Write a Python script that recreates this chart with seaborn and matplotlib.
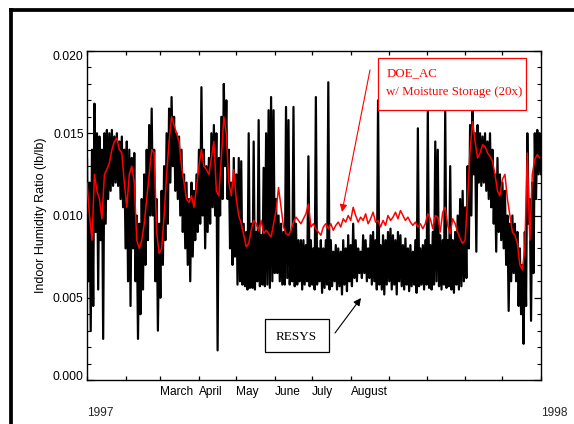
import matplotlib
matplotlib.use("Agg")
import numpy as np
import pandas as pd
import seaborn as sns
import matplotlib.pyplot as plt
from matplotlib.patches import Rectangle
from matplotlib.lines import Line2D

# ---------------- data ----------------
# sampling grid: every 2 days of 1997; RESYS given as a max (day 2i) / min (day 2i+1) pair
month_starts = [0, 31, 59, 90, 120, 151, 181, 212, 243, 273, 304, 334, 365]
month_labels = ["", "", "March", "April", "May", "June", "July", "August", "", "", "", "", ""]
year_labels = ["1997", "1998"]

# RESYS (black) – upper values, Jan-Mar / Apr-Jun / Jul-Sep / Oct-Dec
resys_hi_q1 = [0.0135, 0.0120, 0.0140, 0.0168, 0.0150, 0.0148, 0.0140, 0.0150, 0.0152, 0.0150,
               0.0152, 0.0148, 0.0150, 0.0145, 0.0148, 0.0140, 0.0145, 0.0140, 0.0135, 0.0138,
               0.0100, 0.0095, 0.0110, 0.0125, 0.0140, 0.0155, 0.0165, 0.0140, 0.0110, 0.0095,
               0.0115, 0.0130, 0.0150, 0.0165, 0.0172, 0.0160, 0.0150, 0.0148, 0.0140, 0.0125,
               0.0120, 0.0110, 0.0120, 0.0115, 0.0125, 0.0140]
resys_hi_q2 = [0.0178, 0.0140, 0.0130, 0.0135, 0.0150, 0.0155, 0.0150, 0.0135, 0.0160, 0.0180,
               0.0170, 0.0140, 0.0120, 0.0135, 0.0125, 0.0135, 0.0133, 0.0095, 0.0090, 0.0150,
               0.0095, 0.0145, 0.0090, 0.0158, 0.0088, 0.0129, 0.0150, 0.0164, 0.0172, 0.0164,
               0.0110, 0.0100, 0.0095, 0.0090, 0.0166, 0.0158, 0.0090, 0.0166, 0.0095, 0.0085,
               0.0085, 0.0085, 0.0082, 0.0136, 0.0085]
resys_hi_q3 = [0.0080, 0.0172, 0.0080, 0.0085, 0.0080, 0.0085, 0.0181, 0.0085, 0.0078, 0.0082,
               0.0080, 0.0078, 0.0085, 0.0080, 0.0088, 0.0082, 0.0095, 0.0085, 0.0080, 0.0078,
               0.0088, 0.0085, 0.0080, 0.0088, 0.0090, 0.0085, 0.0170, 0.0082, 0.0088, 0.0085,
               0.0090, 0.0092, 0.0088, 0.0085, 0.0090, 0.0088, 0.0082, 0.0086, 0.0080, 0.0082,
               0.0078, 0.0085, 0.0153, 0.0080, 0.0082]
resys_hi_q4 = [0.0085, 0.0164, 0.0082, 0.0090, 0.0145, 0.0140, 0.0088, 0.0085, 0.0164, 0.0085,
               0.0130, 0.0085, 0.0090, 0.0100, 0.0110, 0.0115, 0.0105, 0.0130, 0.0155, 0.0166,
               0.0150, 0.0155, 0.0150, 0.0148, 0.0150, 0.0145, 0.0150, 0.0140, 0.0125, 0.0135,
               0.0125, 0.0120, 0.0115, 0.0100, 0.0095, 0.0100, 0.0095, 0.0090, 0.0080, 0.0070,
               0.0090, 0.0150, 0.0110, 0.0120, 0.0150, 0.0152, 0.0150]

# RESYS (black) – lower values
resys_lo_q1 = [0.0060, 0.0030, 0.0045, 0.0090, 0.0055, 0.0085, 0.0025, 0.0095, 0.0110, 0.0115,
               0.0118, 0.0120, 0.0118, 0.0110, 0.0105, 0.0080, 0.0060, 0.0045, 0.0080, 0.0060,
               0.0025, 0.0040, 0.0055, 0.0070, 0.0085, 0.0100, 0.0100, 0.0060, 0.0030, 0.0050,
               0.0070, 0.0085, 0.0095, 0.0120, 0.0130, 0.0115, 0.0110, 0.0100, 0.0090, 0.0080,
               0.0070, 0.0060, 0.0075, 0.0085, 0.0090, 0.0095]
resys_lo_q2 = [0.0100, 0.0080, 0.0090, 0.0095, 0.0105, 0.0100, 0.0018, 0.0100, 0.0110, 0.0130,
               0.0110, 0.0080, 0.0070, 0.0075, 0.0058, 0.0060, 0.0058, 0.0057, 0.0055, 0.0056,
               0.0056, 0.0055, 0.0060, 0.0057, 0.0058, 0.0057, 0.0058, 0.0056, 0.0060, 0.0065,
               0.0065, 0.0060, 0.0058, 0.0058, 0.0062, 0.0058, 0.0060, 0.0057, 0.0058, 0.0060,
               0.0055, 0.0058, 0.0060, 0.0057, 0.0058]
resys_lo_q3 = [0.0055, 0.0058, 0.0060, 0.0053, 0.0056, 0.0058, 0.0055, 0.0057, 0.0060, 0.0055,
               0.0057, 0.0052, 0.0058, 0.0054, 0.0060, 0.0057, 0.0062, 0.0060, 0.0065, 0.0062,
               0.0065, 0.0060, 0.0062, 0.0058, 0.0060, 0.0055, 0.0058, 0.0055, 0.0052, 0.0058,
               0.0060, 0.0055, 0.0058, 0.0052, 0.0060, 0.0057, 0.0055, 0.0058, 0.0054, 0.0057,
               0.0058, 0.0053, 0.0057, 0.0058, 0.0055]
resys_lo_q4 = [0.0058, 0.0056, 0.0055, 0.0058, 0.0060, 0.0057, 0.0055, 0.0058, 0.0056, 0.0057,
               0.0055, 0.0053, 0.0058, 0.0055, 0.0057, 0.0060, 0.0062, 0.0080, 0.0100, 0.0125,
               0.0078, 0.0120, 0.0118, 0.0120, 0.0115, 0.0110, 0.0105, 0.0095, 0.0078, 0.0090,
               0.0085, 0.0080, 0.0070, 0.0042, 0.0060, 0.0065, 0.0060, 0.0045, 0.0040, 0.0022,
               0.0045, 0.0095, 0.0036, 0.0065, 0.0110, 0.0125, 0.0125]

# DOE_AC w/ moisture storage (red), every 2 days
doe_q1 = [0.0120, 0.0100, 0.0085, 0.0125, 0.0115, 0.0110, 0.0098, 0.0125, 0.0128, 0.0132,
          0.0140, 0.0145, 0.0147, 0.0140, 0.0138, 0.0120, 0.0105, 0.0125, 0.0130, 0.0120,
          0.0085, 0.0080, 0.0085, 0.0095, 0.0110, 0.0125, 0.0140, 0.0138, 0.0090, 0.0077,
          0.0080, 0.0100, 0.0125, 0.0145, 0.0160, 0.0155, 0.0150, 0.0145, 0.0130, 0.0120,
          0.0110, 0.0108, 0.0112, 0.0105, 0.0117, 0.0130]
doe_q2 = [0.0140, 0.0130, 0.0128, 0.0125, 0.0135, 0.0145, 0.0115, 0.0112, 0.0135, 0.0160,
          0.0150, 0.0120, 0.0112, 0.0128, 0.0110, 0.0100, 0.0095, 0.0088, 0.0081, 0.0083,
          0.0091, 0.0097, 0.0095, 0.0091, 0.0097, 0.0089, 0.0091, 0.0089, 0.0087, 0.0095,
          0.0103, 0.0117, 0.0105, 0.0093, 0.0089, 0.0088, 0.0091, 0.0096, 0.0099, 0.0097,
          0.0095, 0.0098, 0.0101, 0.0107, 0.0093]
doe_q3 = [0.0095, 0.0092, 0.0090, 0.0088, 0.0093, 0.0095, 0.0092, 0.0095, 0.0091, 0.0094,
          0.0096, 0.0093, 0.0098, 0.0096, 0.0100, 0.0097, 0.0105, 0.0100, 0.0096, 0.0099,
          0.0097, 0.0101, 0.0095, 0.0098, 0.0102, 0.0096, 0.0097, 0.0093, 0.0097, 0.0094,
          0.0100, 0.0097, 0.0099, 0.0102, 0.0098, 0.0103, 0.0100, 0.0097, 0.0099, 0.0096,
          0.0094, 0.0096, 0.0093, 0.0095, 0.0092]
doe_q4 = [0.0095, 0.0101, 0.0098, 0.0092, 0.0100, 0.0099, 0.0090, 0.0102, 0.0105, 0.0094,
          0.0089, 0.0098, 0.0095, 0.0090, 0.0086, 0.0083, 0.0085, 0.0110, 0.0140, 0.0157,
          0.0145, 0.0135, 0.0138, 0.0143, 0.0142, 0.0138, 0.0136, 0.0133, 0.0125, 0.0115,
          0.0112, 0.0122, 0.0125, 0.0110, 0.0100, 0.0090, 0.0088, 0.0083, 0.0070, 0.0067,
          0.0080, 0.0138, 0.0085, 0.0125, 0.0134, 0.0137, 0.0135]

# ---------------- assemble ----------------
resys_hi = resys_hi_q1 + resys_hi_q2 + resys_hi_q3 + resys_hi_q4
resys_lo = resys_lo_q1 + resys_lo_q2 + resys_lo_q3 + resys_lo_q4
doe = doe_q1 + doe_q2 + doe_q3 + doe_q4
grid = np.arange(0, 2 * len(doe), 2)

black_day = np.empty(2 * len(resys_hi))
black_val = np.empty(2 * len(resys_hi))
black_day[0::2] = grid
black_day[1::2] = grid + 1
black_val[0::2] = resys_hi
black_val[1::2] = resys_lo
df_black = pd.DataFrame({"day": black_day, "w": black_val})
df_red = pd.DataFrame({"day": grid, "w": doe})

# ---------------- plot ----------------
sns.set_theme(style="ticks")
plt.rcParams["font.family"] = ["Liberation Sans", "DejaVu Sans"]

W, H = 574, 424
fig = plt.figure(figsize=(W / 100, H / 100), dpi=100)
L, R, T, B = 87, 541, 51, 380
ax = fig.add_axes([L / W, (H - B) / H, (R - L) / W, (B - T) / H])

sns.lineplot(data=df_black, x="day", y="w", estimator=None, sort=False,
             color="black", lw=1.6, ax=ax, zorder=2)
sns.lineplot(data=df_red, x="day", y="w", estimator=None, sort=False,
             color="#ff0000", lw=1.1, ax=ax, zorder=3)

ax.set_xlim(0, 365)
ax.set_ylim(0, 0.020)
ax.set_xlabel("")
ax.set_ylabel("Indoor Humidity Ratio (lb/lb)", fontsize=9, labelpad=4, color="black")

ax.set_xticks(month_starts)
ax.set_xticklabels(month_labels, fontsize=8.6, ha="left")
yt = [0.0, 0.005, 0.010, 0.015, 0.020]
ax.set_yticks(yt)
ax.set_yticklabels([f"{v:.3f}" for v in yt], fontsize=8.8)
ax.set_yticks(np.arange(0, 0.0201, 0.001), minor=True)
ax.tick_params(axis="both", which="both", direction="in", top=True, right=True, colors="black")
ax.tick_params(axis="y", which="major", length=5, width=0.9, pad=2.4)
ax.tick_params(axis="y", which="minor", length=3, width=0.8)
ax.tick_params(axis="x", which="major", length=3, width=0.9, pad=4)
ylabs = ax.get_yticklabels()
ylabs[0].set_va("baseline")
ylabs[-1].set_va("top")
for s in ax.spines.values():
    s.set_linewidth(1.0)
    s.set_color("black")

# year labels under the axis
ax.text(0, -0.1, year_labels[0], transform=ax.get_xaxis_transform(),
        ha="left", va="center", fontsize=8.6)
ax.text(365, -0.1, year_labels[1], transform=ax.get_xaxis_transform(),
        ha="left", va="center", fontsize=8.6, clip_on=False)

# DOE_AC annotation
def fx(px):
    return (px - L) / (R - L)

def fy(py):
    return (B - py) / (B - T)

ax.add_patch(Rectangle((fx(378), fy(110)), fx(526) - fx(378), fy(58) - fy(110),
                       transform=ax.transAxes, facecolor="white", edgecolor="#ff0000",
                       lw=0.9, zorder=5))
ax.text(fx(386.5), fy(73), "DOE_AC", transform=ax.transAxes, color="#ff0000",
        fontsize=9.3, family=["Liberation Serif", "DejaVu Serif"], ha="left", va="center", zorder=6)
ax.text(fx(386.5), fy(92.5), "w/ Moisture Storage (20x)", transform=ax.transAxes, color="#ff0000",
        fontsize=9.3, family=["Liberation Serif", "DejaVu Serif"], ha="left", va="center", zorder=6)
ax.annotate("", xy=(fx(342), fy(212)), xytext=(fx(370), fy(70)),
            xycoords="axes fraction", textcoords="axes fraction",
            arrowprops=dict(arrowstyle="-|>", color="#ff0000", lw=0.8,
                            mutation_scale=11, shrinkA=0, shrinkB=0), zorder=6)

# RESYS annotation
ax.add_patch(Rectangle((fx(264.5), fy(352)), fx(328.5) - fx(264.5), fy(319) - fy(352),
                       transform=ax.transAxes, facecolor="white", edgecolor="black",
                       lw=0.9, zorder=5))
ax.text(fx(296), fy(337.5), "RESYS", transform=ax.transAxes, color="black",
        fontsize=9.5, family=["Liberation Serif", "DejaVu Serif"], ha="center", va="center", zorder=6)
ax.annotate("", xy=(fx(361), fy(298)), xytext=(fx(335), fy(333)),
            xycoords="axes fraction", textcoords="axes fraction",
            arrowprops=dict(arrowstyle="-|>", color="black", lw=0.8,
                            mutation_scale=11, shrinkA=0, shrinkB=0), zorder=6)

# page frame (left and top heavy rules)
fx0 = 10.8 / W
fy0 = 1 - 10.0 / H
fig.add_artist(Line2D([fx0, fx0], [-0.02, fy0 + 1.8 / H], transform=fig.transFigure,
                      color="black", lw=2.7, solid_capstyle="butt"))
fig.add_artist(Line2D([fx0 - 1.8 / W, 1.02], [fy0, fy0], transform=fig.transFigure,
                      color="black", lw=2.7, solid_capstyle="butt"))

fig.savefig("out.png", dpi=100)
